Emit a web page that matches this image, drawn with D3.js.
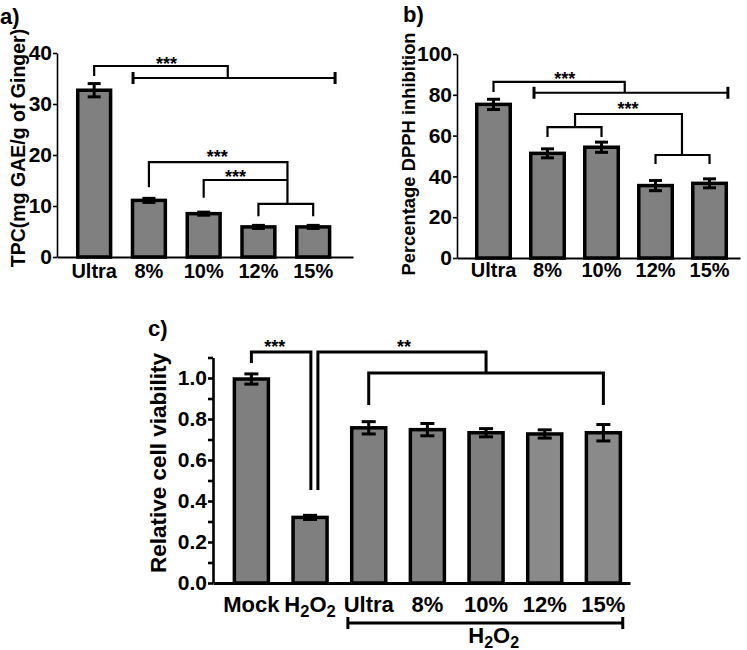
<!DOCTYPE html>
<html>
<head>
<meta charset="utf-8">
<script src="https://cdn.jsdelivr.net/npm/d3@7"></script>
<style>
  body { margin: 0; background: #fff; }
  svg { display: block; font-family: "Liberation Sans", Arial, sans-serif; font-weight: bold; }
</style>
</head>
<body>
<svg id="chart" width="747" height="650"></svg>
<script>
// ---------- data ----------
const catsA = ["Ultra", "8%", "10%", "12%", "15%"];
const tpcMean = [32.7, 11.1, 8.5, 5.9, 5.9];
const tpcErr = [1.3, 0.4, 0.3, 0.3, 0.3];
const ticksA = [0, 10, 20, 30, 40];

const catsB = ["Ultra", "8%", "10%", "12%", "15%"];
const dpphMean = [75.3, 51.3, 54.3, 35.5, 36.6];
const dpphErr = [2.5, 2.2, 2.5, 2.5, 2.2];
const ticksB = [0, 20, 40, 60, 80, 100];

const catsC = ["Mock", "H2O2", "Ultra", "8%", "10%", "12%", "15%"];
const viabMean = [0.995, 0.32, 0.757, 0.748, 0.733, 0.727, 0.733];
const viabErr = [0.025, 0.01, 0.03, 0.03, 0.02, 0.02, 0.04];
const ticksC = [0, 0.1, 0.2, 0.3, 0.4, 0.5, 0.6, 0.7, 0.8, 0.9, 1.0, 1.1];

// significance annotations (category index, data value)
const sigA = [
  { path: [[0, 35.5], [0, 37.45], [2.44, 37.45], [2.44, 35.1]] },
  { path: [[0.71, 35.1], [4.4, 35.1]], caps: true },
  { path: [[1, 13.7], [1, 18.6], [3.53, 18.6], [3.53, 10.4]] },
  { path: [[2, 11.6], [2, 15.1], [3.53, 15.1]] },
  { path: [[3, 8.0], [3, 10.4], [4, 10.4], [4, 8.0]] }
];
const starsA = [{ i: 1.32, v: 38.2, t: "***" }, { i: 2.25, v: 20.0, t: "***" }, { i: 2.58, v: 15.9, t: "***" }];

const sigB = [
  { path: [[0, 81.4], [0, 86.3], [2.43, 86.3], [2.43, 81.0]] },
  { path: [[0.75, 81.0], [4.34, 81.0]], caps: true },
  { path: [[1, 59.3], [1, 64.2], [2, 64.2], [2, 59.3]] },
  { path: [[1.51, 64.2], [1.51, 70.6], [3.49, 70.6], [3.49, 50.5]] },
  { path: [[3, 46.1], [3, 50.5], [4, 50.5], [4, 46.1]] }
];
const starsB = [{ i: 1.32, v: 88.7, t: "***" }, { i: 2.49, v: 74.0, t: "***" }];

const sigC = [
  { path: [[0, 1.073], [0, 1.127], [1.014, 1.127], [1.014, 0.454]] },
  { path: [[1.134, 0.454], [1.134, 1.127], [4.0, 1.127], [4.0, 1.024]] },
  { path: [[2, 0.868], [2, 1.024], [6, 1.024], [6, 0.868]] }
];
const starsC = [{ i: 0.4, v: 1.161, t: "***" }, { i: 2.6, v: 1.161, t: "**" }];

const svg = d3.select("#chart");
const FONT = "Liberation Sans, Arial, sans-serif";

function panel(opt) {
  const g = svg.append("g");
  const x = d3.scaleBand().domain(opt.cats).range(opt.xr)
    .paddingInner(opt.pi).paddingOuter(opt.po).align(opt.align);
  const y = d3.scaleLinear().domain(opt.yd).range(opt.yr);
  const cx = i => {
    const f = Math.floor(Math.min(i, opt.cats.length - 1));
    const c0 = x(opt.cats[f]) + x.bandwidth() / 2;
    return c0 + (i - f) * x.step();
  };

  // bars
  g.selectAll("rect.bar").data(opt.cats).join("rect")
    .attr("x", d => x(d))
    .attr("y", (d, i) => y(opt.mean[i]))
    .attr("width", x.bandwidth())
    .attr("height", (d, i) => y(0) - y(opt.mean[i]))
    .attr("fill", (d, i) => opt.fill(i))
    .attr("stroke", "#000")
    .attr("stroke-width", opt.barStroke);

  // error bars
  const capW = opt.capW;
  opt.cats.forEach((c, i) => {
    const xc = x(c) + x.bandwidth() / 2;
    const lo = y(opt.mean[i] - opt.err[i]), hi = y(opt.mean[i] + opt.err[i]);
    g.append("line").attr("x1", xc).attr("x2", xc).attr("y1", lo).attr("y2", hi)
      .attr("stroke", "#000").attr("stroke-width", 3);
    [lo, hi].forEach(yy => g.append("line").attr("x1", xc - capW / 2).attr("x2", xc + capW / 2)
      .attr("y1", yy).attr("y2", yy).attr("stroke", "#000").attr("stroke-width", 3));
  });

  // y axis
  const ya = d3.axisLeft(y).tickValues(opt.yticks).tickSize(opt.tickLen).tickSizeOuter(0)
    .tickPadding(1).tickFormat(opt.yfmt);
  const yg = g.append("g").attr("transform", `translate(${opt.xr[0]},0)`).call(ya);
  yg.attr("font-family", FONT);
  yg.selectAll("text").attr("font-size", opt.yfs).attr("font-weight", "bold").attr("fill", "#000");
  yg.selectAll("line").attr("stroke", "#000").attr("stroke-width", opt.axisW);
  yg.select(".domain").attr("stroke", "#000").attr("stroke-width", opt.axisW);

  // x axis
  const xa = d3.axisBottom(x).tickSize(0).tickSizeOuter(0).tickPadding(opt.xPad);
  const xg = g.append("g").attr("transform", `translate(0,${opt.yr[0]})`).call(xa);
  xg.attr("font-family", FONT);
  xg.select(".domain").attr("stroke", "#000").attr("stroke-width", opt.axisW + 0.5);
  xg.selectAll("text").attr("font-size", opt.xfs).attr("font-weight", "bold").attr("fill", "#000")
    .each(function (d) {
      if (d === "H2O2") {
        const t = d3.select(this).text(null);
        t.append("tspan").text("H");
        t.append("tspan").text("2").attr("font-size", opt.xfs * 0.75).attr("dy", 5);
        t.append("tspan").text("O").attr("dy", -5);
        t.append("tspan").text("2").attr("font-size", opt.xfs * 0.75).attr("dy", 5);
      }
    });

  // axis title
  g.append("text").attr("transform", `translate(${opt.titleX},${opt.titleY}) rotate(-90)`)
    .attr("text-anchor", "middle").attr("font-size", opt.titleFs).attr("fill", "#000").text(opt.title);

  // panel label
  g.append("text").attr("x", opt.lab[0]).attr("y", opt.lab[1]).attr("font-size", 22)
    .attr("fill", "#000").text(opt.label);

  // brackets
  opt.sig.forEach(s => {
    const pts = s.path.map(p => [cx(p[0]), y(p[1])]);
    g.append("path").attr("d", d3.line()(pts)).attr("fill", "none")
      .attr("stroke", "#000").attr("stroke-width", opt.brW).attr("stroke-linejoin", "miter");
    if (s.caps) {
      pts.forEach(p => g.append("line").attr("x1", p[0]).attr("x2", p[0])
        .attr("y1", p[1] - 6).attr("y2", p[1] + 6).attr("stroke", "#000").attr("stroke-width", 3));
    }
  });
  opt.stars.forEach(s => {
    g.append("text").attr("x", cx(s.i)).attr("y", y(s.v)).attr("text-anchor", "middle")
      .attr("font-size", 18).attr("fill", "#000")
      .attr("dy", "0.42em").text(s.t);
  });
  return { g, x, y, cx };
}

panel({
  cats: catsA, mean: tpcMean, err: tpcErr, yd: [0, 40], yr: [257, 53], xr: [57, 353],
  pi: 0.4, po: 0.403, align: 0.47, yticks: ticksA, yfmt: d3.format("d"), yfs: 21, xfs: 20,
  fill: () => "#808080", barStroke: 3.5, capW: 13, tickLen: 4, axisW: 1.6, xPad: 7,
  title: "TPC(mg GAE/g of Ginger)", titleX: 25, titleY: 148, titleFs: 19.5,
  label: "a)", lab: [0, 24], sig: sigA, stars: starsA, brW: 2.2
});

panel({
  cats: catsB, mean: dpphMean, err: dpphErr, yd: [0, 100], yr: [258, 54], xr: [457, 740],
  pi: 0.38, po: 0.31, align: 0.59, yticks: ticksB, yfmt: d3.format("d"), yfs: 21, xfs: 20,
  fill: () => "#808080", barStroke: 3.5, capW: 13, tickLen: 4, axisW: 1.6, xPad: 5,
  title: "Percentage DPPH inhibition", titleX: 415, titleY: 154, titleFs: 18.4,
  label: "b)", lab: [403, 22], sig: sigB, stars: starsB, brW: 2.2
});

const pc = panel({
  cats: catsC, mean: viabMean, err: viabErr, yd: [0, 1.1], yr: [583, 357.5], xr: [213, 630],
  pi: 0.42, po: 0.264, align: 0.69, yticks: ticksC,
  yfmt: d => (Math.round(d * 10) % 2 === 0 ? d3.format(".1f")(d) : ""), yfs: 21, xfs: 22,
  fill: i => (i >= 5 ? "#8a8a8a" : "#7f7f7f"), barStroke: 3.5, capW: 14, tickLen: 5, axisW: 2.6, xPad: 13,
  title: "Relative cell viability", titleX: 166, titleY: 463, titleFs: 22.5,
  label: "c)", lab: [148, 336], sig: sigC, stars: starsC, brW: 3
});

// H2O2 group line under panel c
(function () {
  const x1 = pc.cx(1.645), x2 = pc.cx(6.33), yy = 623;
  const g = pc.g;
  g.append("line").attr("x1", x1).attr("x2", x2).attr("y1", yy).attr("y2", yy)
    .attr("stroke", "#000").attr("stroke-width", 3);
  [x1, x2].forEach(xx => g.append("line").attr("x1", xx).attr("x2", xx).attr("y1", yy - 6).attr("y2", yy + 6)
    .attr("stroke", "#000").attr("stroke-width", 3));
  const t = g.append("text").attr("x", pc.cx(4.13)).attr("y", 643).attr("text-anchor", "middle")
    .attr("font-size", 22).attr("fill", "#000");
  t.append("tspan").text("H");
  t.append("tspan").text("2").attr("font-size", 16).attr("dy", 5);
  t.append("tspan").text("O").attr("dy", -5);
  t.append("tspan").text("2").attr("font-size", 16).attr("dy", 5);
})();
</script>
</body>
</html>
